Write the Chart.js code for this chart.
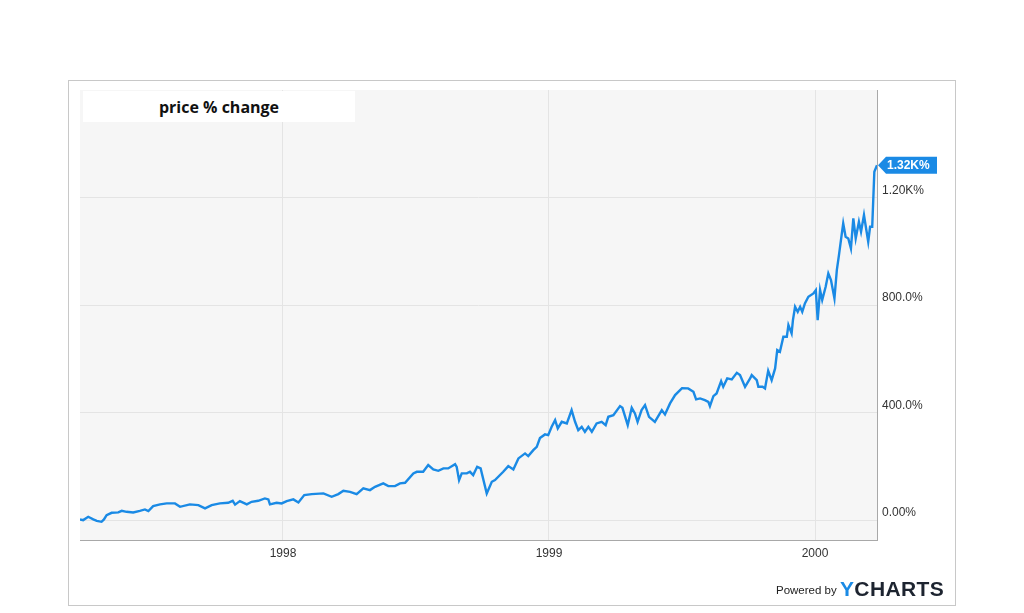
<!DOCTYPE html>
<html>
<head>
<meta charset="utf-8">
<script src="https://cdn.jsdelivr.net/npm/chart.js@4"></script>
<style>
  body { margin: 0; background: #fff; }
  #wrap { position: relative; width: 1024px; height: 613px; }
  #frame { position: absolute; left: 68px; top: 80px; width: 886px; height: 524px; border: 1px solid #c8c8c8; }
  #title { position: absolute; left: 83px; top: 91px; width: 272px; height: 31px; background: #fff;
           font: bold 16px "Open Sans", sans-serif; color: #111; text-align: center; line-height: 32px; }
  #powered { position: absolute; left: 776px; top: 577px; font: 11.5px "Liberation Sans", Arial, sans-serif; color: #222; }
  #powered b { font-size: 21px; letter-spacing: 0.4px; color: #1d2430; vertical-align: -2px; }
  #powered b span { color: #1a8ae5; }
  canvas { position: absolute; left: 0; top: 0; }
</style>
</head>
<body>
<div id="wrap">
  <div id="frame"></div>
  <canvas id="myChart" width="1024" height="613"></canvas>
  <div id="title">price % change</div>
  <div id="powered">Powered by <b><span>Y</span>CHARTS</b></div>
</div>
<script>
// time as decimal years, value in % change
const dates = [
  1997.237, 1997.249, 1997.268, 1997.287, 1997.300, 1997.318, 1997.327, 1997.337, 1997.356, 1997.381,
  1997.394, 1997.412, 1997.437, 1997.462, 1997.481, 1997.494, 1997.512, 1997.538, 1997.563, 1997.594,
  1997.613, 1997.650, 1997.682, 1997.707, 1997.732, 1997.763, 1997.794, 1997.811, 1997.820, 1997.838,
  1997.864, 1997.882, 1997.907, 1997.932, 1997.945, 1997.951, 1997.976, 1997.995, 1998.014, 1998.039,
  1998.058, 1998.080, 1998.108, 1998.152, 1998.183, 1998.208, 1998.227, 1998.252, 1998.277, 1998.302,
  1998.327, 1998.346, 1998.377, 1998.396, 1998.421, 1998.440, 1998.459, 1998.490, 1998.503, 1998.527,
  1998.546, 1998.565, 1998.584, 1998.603, 1998.621, 1998.647, 1998.653, 1998.662, 1998.672, 1998.691,
  1998.703, 1998.715, 1998.730, 1998.743, 1998.766, 1998.785, 1998.797, 1998.828, 1998.847, 1998.866,
  1998.885, 1998.910, 1998.922, 1998.941, 1998.954, 1998.966, 1998.985, 1998.997, 1999.010, 1999.023,
  1999.033, 1999.048, 1999.067, 1999.085, 1999.098, 1999.110, 1999.123, 1999.135, 1999.148, 1999.161,
  1999.179, 1999.198, 1999.213, 1999.223, 1999.242, 1999.267, 1999.276, 1999.296, 1999.311, 1999.323,
  1999.333, 1999.348, 1999.361, 1999.376, 1999.398, 1999.424, 1999.436, 1999.455, 1999.474, 1999.500,
  1999.523, 1999.543, 1999.553, 1999.568, 1999.586, 1999.599, 1999.605, 1999.618, 1999.630, 1999.647,
  1999.655, 1999.670, 1999.687, 1999.706, 1999.718, 1999.737, 1999.756, 1999.762, 1999.781, 1999.787,
  1999.803, 1999.812, 1999.824, 1999.837, 1999.850, 1999.858, 1999.868, 1999.881, 1999.894, 1999.900,
  1999.912, 1999.917, 1999.925, 1999.935, 1999.944, 1999.952, 1999.962, 1999.975, 1999.994, 2000.003,
  2000.010, 2000.019, 2000.027, 2000.040, 2000.050, 2000.060, 2000.073, 2000.082, 2000.090, 2000.100,
  2000.106, 2000.115, 2000.125, 2000.135, 2000.144, 2000.153, 2000.165, 2000.173, 2000.184, 2000.194,
  2000.200, 2000.207, 2000.215, 2000.223, 2000.233
];
const priceChange = [
  2.6, 0, 12.3, 2.6, -2.6, -6.3, 2.6, 18.6, 27.2, 28.6,
  34.6, 30.9, 28.6, 34.6, 39.8, 33.5, 52.1, 58.4, 62.1, 62.1,
  49.5, 58.4, 55.8, 43.5, 55.8, 62.1, 64.4, 71.8, 57.7, 70.7,
  58.4, 68.1, 71.8, 80.7, 77.0, 58.4, 64.4, 62.1, 70.7, 77.0,
  65.8, 93.0, 96.7, 99.3, 86.7, 96.7, 109.0, 105.3, 96.7, 117.9,
  111.6, 123.9, 136.5, 126.5, 126.5, 136.5, 138.8, 173.7, 179.7, 179.7,
  204.6, 188.6, 183.4, 192.3, 192.3, 208.3, 198.3, 148.8, 173.7, 173.7,
  179.7, 167.4, 198.3, 192.3, 99.3, 142.5, 148.8, 179.7, 200.9, 188.6,
  229.5, 248.1, 238.1, 260.4, 272.7, 305.0, 318.8, 316.2, 347.1, 372.0,
  341.1, 365.7, 359.7, 409.2, 365.7, 334.8, 347.1, 328.5, 347.1, 328.5,
  359.7, 365.7, 353.4, 384.3, 390.6, 424.1, 417.8, 353.4, 417.8, 396.9,
  365.7, 409.2, 427.8, 384.3, 365.7, 409.2, 393.2, 434.1, 465.0, 491.0,
  489.9, 477.3, 449.0, 452.7, 446.4, 440.1, 424.1, 461.3, 471.3, 517.1,
  495.9, 527.1, 523.4, 548.0, 539.4, 495.9, 527.1, 539.4, 520.8, 495.9,
  495.9, 489.9, 555.4, 520.8, 564.3, 632.4, 626.1, 681.9, 681.9, 725.4,
  694.5, 744.0, 793.5, 774.9, 793.5, 774.9, 806.1, 830.7, 843.3, 855.6,
  744.0, 855.6, 818.4, 867.9, 917.7, 892.8, 824.7, 930.0, 985.8, 1060.2,
  1103.7, 1053.9, 1047.9, 1010.7, 1122.3, 1047.9, 1109.7, 1072.5, 1134.6, 1072.5,
  1035.3, 1091.1, 1091.1, 1295.7, 1320.0
];
const yearTicks = [1998, 1999, 2000];
const yTicks = [0, 400, 800, 1200];
const yTickLabels = ["0.00%", "400.0%", "800.0%", "1.20K%"];
const lastLabel = "1.32K%";

const lineColor = "#1a8ae5";
const cxt = document.querySelector("#myChart");

const plotBackground = {
  id: "plotBackground",
  beforeDraw(chart) {
    const { ctx, chartArea: a } = chart;
    ctx.save();
    ctx.fillStyle = "#f6f6f6";
    ctx.fillRect(a.left, a.top, a.right - a.left, a.bottom - a.top);
    ctx.restore();
  },
};

const lastValueTag = {
  id: "lastValueTag",
  afterDatasetsDraw(chart) {
    const meta = chart.getDatasetMeta(0);
    const pt = meta.data[meta.data.length - 1];
    const ctx = chart.ctx;
    const x = pt.x + 1, y = pt.y;
    ctx.save();
    ctx.fillStyle = lineColor;
    ctx.beginPath();
    ctx.moveTo(x, y);
    ctx.lineTo(x + 8, y - 8.5);
    ctx.lineTo(x + 59, y - 8.5);
    ctx.lineTo(x + 59, y + 8.5);
    ctx.lineTo(x + 8, y + 8.5);
    ctx.closePath();
    ctx.fill();
    ctx.fillStyle = "#fff";
    ctx.font = 'bold 12px "Liberation Sans", Arial, sans-serif';
    ctx.textBaseline = "middle";
    ctx.fillText(lastLabel, x + 9, y + 0.5);
    ctx.restore();
  },
};

new Chart(cxt, {
  type: "line",
  data: {
    datasets: [
      {
        data: dates.map((t, i) => ({ x: t, y: priceChange[i] })),
        borderColor: lineColor,
        borderWidth: 2.4,
        pointRadius: 0,
        tension: 0,
        fill: false,
      },
    ],
  },
  options: {
    responsive: false,
    animation: false,
    events: [],
    layout: { padding: { left: 80, top: 90, right: 0, bottom: 0 } },
    plugins: { legend: { display: false }, tooltip: { enabled: false } },
    scales: {
      x: {
        type: "linear",
        min: 1997.237,
        max: 2000.233,
        afterBuildTicks: (scale) => { scale.ticks = yearTicks.map((v) => ({ value: v })); },
        afterFit: (scale) => { scale.height = 73; },
        ticks: {
          callback: (value) => String(value),
          color: "#333",
          font: { family: '"Liberation Sans", Arial, sans-serif', size: 12 },
          padding: 6,
          maxRotation: 0,
        },
        grid: { color: "#e4e4e4", drawTicks: false },
        border: { display: true, color: "#a8a8a8", width: 1 },
      },
      y: {
        position: "right",
        min: -74,
        max: 1600,
        afterBuildTicks: (scale) => { scale.ticks = yTicks.map((v) => ({ value: v })); },
        afterFit: (scale) => { scale.width = 147; },
        ticks: {
          callback: (value, index) => yTickLabels[index],
          color: "#333",
          font: { family: '"Liberation Sans", Arial, sans-serif', size: 12 },
          padding: 5,
          labelOffset: -7,
        },
        grid: { color: "#e4e4e4", drawTicks: false },
        border: { display: true, color: "#a8a8a8", width: 1 },
      },
    },
  },
  plugins: [plotBackground, lastValueTag],
});
</script>
</body>
</html>
